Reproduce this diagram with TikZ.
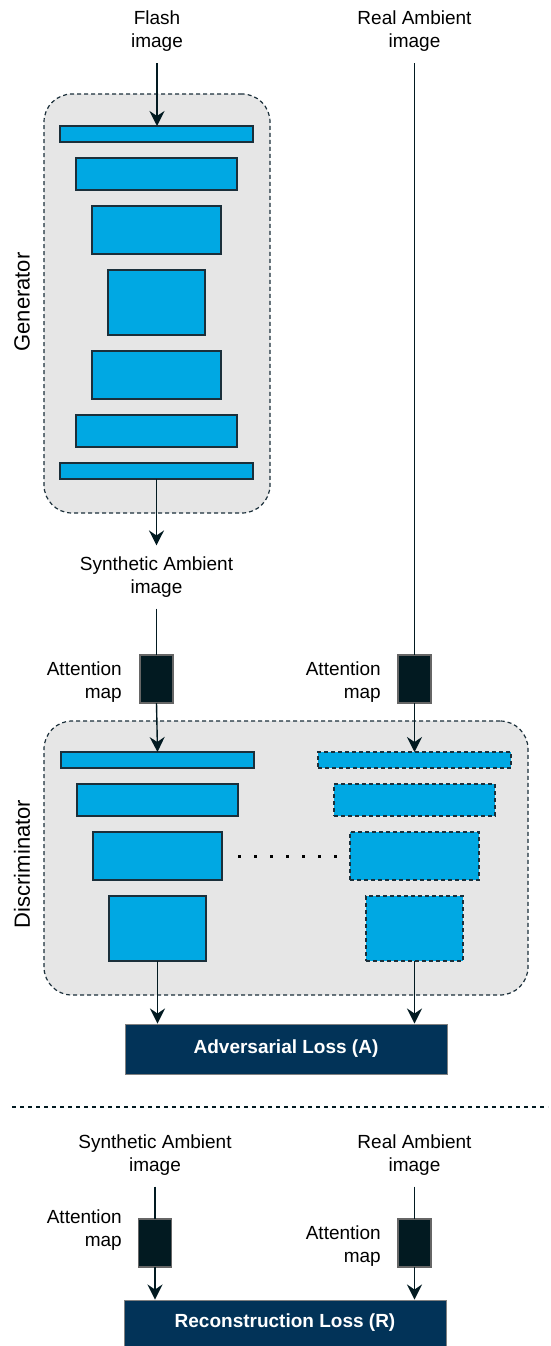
\documentclass[tikz,border=0pt]{standalone}
\usepackage{fontspec}
\setmainfont{Liberation Sans}
\usetikzlibrary{arrows.meta,positioning}

\definecolor{layerblue}{HTML}{00A8E3}
\definecolor{layeredge}{HTML}{1B2F3A}
\definecolor{panelgray}{HTML}{E6E6E6}
\definecolor{mapdark}{HTML}{021A21}
\definecolor{lossnavy}{HTML}{023358}

\tikzset{
  every node/.append style={font=\fontsize{19}{23}\selectfont},
  layer/.style={draw=layeredge, fill=layerblue, line width=1.2pt, inner sep=0, outer sep=0},
  ghost/.style={layer, dashed, dash pattern=on 4pt off 3pt},
  panel/.style={draw=layeredge, fill=panelgray, line width=1.2pt, dashed, dash pattern=on 4pt off 3pt, rounded corners=28pt, inner sep=0},
  attmap/.style={draw=gray!80!black, fill=mapdark, line width=1.2pt, minimum width=33, minimum height=48, inner sep=0, outer sep=0},
  loss/.style={draw=gray, fill=lossnavy, text=white, font=\fontsize{19}{23}\selectfont\bfseries, line width=1pt, inner sep=0},
  caption/.style={align=center, inner xsep=0, inner ysep=11pt},
  sidelabel/.style={rotate=90, font=\fontsize{22}{26}\selectfont},
  flow/.style={-{Stealth[length=15pt,width=15pt,inset=5pt]}, line width=1.4pt, draw=mapdark},
  feed/.style={line width=1.4pt, draw=mapdark}
}

\begin{document}
\begin{tikzpicture}[x=1pt, y=-1pt]
    \useasboundingbox (0,0) rectangle (551,1346);

    % panels
    \node[panel, minimum width=226, minimum height=419] (gen) at (157,303.5) {};
    \node[panel, minimum width=484, minimum height=274] (dis) at (286,858) {};
    \node[sidelabel] (genlabel) at (22,302) {Generator};
    \node[sidelabel] (dislabel) at (22,864) {Discriminator};

    % generator layers
    \node[layer, minimum width=193, minimum height=16] (gen1) at (156.5,134) {};
    \node[layer, minimum width=161, minimum height=32] (gen2) at (156.5,174) {};
    \node[layer, minimum width=129, minimum height=48] (gen3) at (156.5,230) {};
    \node[layer, minimum width=97, minimum height=65] (gen4) at (156.5,302.5) {};
    \node[layer, minimum width=129, minimum height=48] (gen5) at (156.5,375) {};
    \node[layer, minimum width=161, minimum height=32] (gen6) at (156.5,431) {};
    \node[layer, minimum width=193, minimum height=16] (gen7) at (156.5,471) {};

    % discriminator layers
    \node[layer, minimum width=193, minimum height=16] (disL1) at (157.5,760) {};
    \node[layer, minimum width=161, minimum height=32] (disL2) at (157.5,800) {};
    \node[layer, minimum width=129, minimum height=48] (disL3) at (157.5,856) {};
    \node[layer, minimum width=97, minimum height=65] (disL4) at (157.5,928.5) {};
    \node[ghost, minimum width=193, minimum height=16] (disR1) at (414.5,760) {};
    \node[ghost, minimum width=161, minimum height=32] (disR2) at (414.5,800) {};
    \node[ghost, minimum width=129, minimum height=48] (disR3) at (414.5,856) {};
    \node[ghost, minimum width=97, minimum height=65] (disR4) at (414.5,928.5) {};
    \foreach \i in {0,...,6}
      \fill (239+16*\i-1.5,854.5) rectangle ++(3,3);

    % inputs
    \node[caption] (flash) at (157,31.5) {Flash\\image};
    \node[caption] (real) at (414.5,31.5) {Real Ambient\\image};
    \node[caption] (synth) at (156.5,577) {Synthetic Ambient\\image};

    \node[attmap] (attL) at (156.5,679) {};
    \node[attmap] (attR) at (414.5,679) {};
    \node[align=right, anchor=east, inner sep=0] (attLtext) at (122,682) {Attention\\map};
    \node[align=right, anchor=east, inner sep=0] (attRtext) at (381,682) {Attention\\map};

    \node[loss, minimum width=322, minimum height=50] (adv) at (286,1049) {Adversarial Loss (A)};

    \draw[flow] (flash.south) -- (flash.south |- gen1.north);
    \draw[flow] (gen7.south) -- (gen7.south |- synth.north);
    \draw[feed] (synth.south) -- (synth.south |- attL.north);
    \draw[flow] (attL.south) -- (disL1.north);
    \draw[feed] (real.south) -- (real.south |- attR.north);
    \draw[flow] (attR.south) -- (disR1.north);
    \draw[flow] (disL4.south) -- (disL4.south |- adv.north);
    \draw[flow] (disR4.south) -- (disR4.south |- adv.north);

    % separator
    \draw[line width=1.2pt, draw=mapdark, dash pattern=on 4pt off 4pt] (12,1107) coordinate (sepL) -- (548,1107) coordinate (sepR);

    % reconstruction
    \node[caption] (synth2) at (155,1155) {Synthetic Ambient\\image};
    \node[caption] (real2) at (414.5,1155) {Real Ambient\\image};
    \node[attmap] (attL2) at (155,1243) {};
    \node[attmap] (attR2) at (414.5,1243) {};
    \node[align=right, anchor=east, inner sep=0] (attL2text) at (122,1230) {Attention\\map};
    \node[align=right, anchor=east, inner sep=0] (attR2text) at (381,1246) {Attention\\map};
    \node[loss, minimum width=322, minimum height=46] (rec) at (285,1323) {Reconstruction Loss (R)};

    \draw[feed] (synth2.south) -- (synth2.south |- attL2.north);
    \draw[flow] (attL2.south) -- (attL2.south |- rec.north);
    \draw[feed] (real2.south) -- (real2.south |- attR2.north);
    \draw[flow] (attR2.south) -- (attR2.south |- rec.north);
\end{tikzpicture}
\end{document}
